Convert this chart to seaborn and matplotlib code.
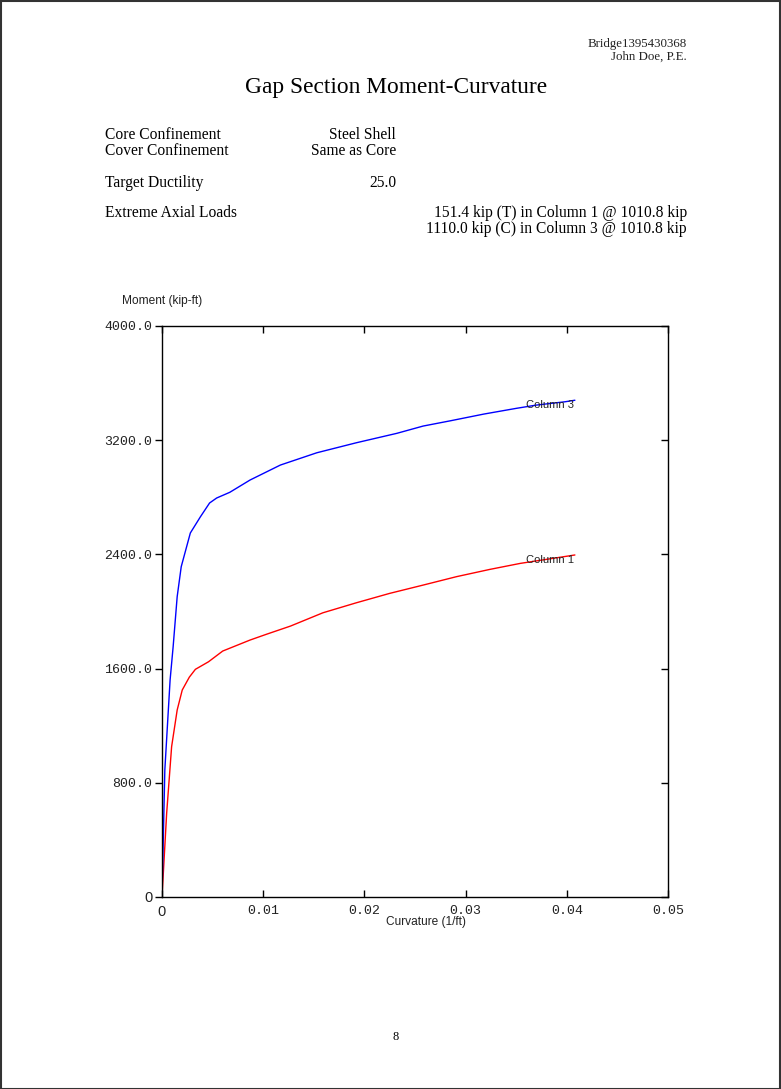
import matplotlib
matplotlib.use("Agg")
import matplotlib.pyplot as plt
from matplotlib.patches import Rectangle
from matplotlib.ticker import FixedLocator, FuncFormatter
import seaborn as sns
import pandas as pd

# ---- data ----
col3_curv = [0.0, 0.00028, 0.0008, 0.0011, 0.0015, 0.0019, 0.0028, 0.0038, 0.0047,
             0.0054, 0.0067, 0.0087, 0.0117, 0.0153, 0.0192, 0.0232, 0.0258, 0.0285,
             0.0318, 0.0350, 0.0370, 0.0398, 0.0408]
col3_moment = [0, 890, 1520, 1753, 2104, 2314, 2550, 2664, 2760,
               2795, 2835, 2921, 3026, 3112, 3182, 3248, 3299, 3336,
               3383, 3423, 3446, 3469, 3480]
col1_curv = [0.0, 0.00046, 0.00095, 0.0015, 0.0020, 0.0027, 0.0033, 0.0046, 0.0060,
             0.0087, 0.0103, 0.0127, 0.0159, 0.0192, 0.0225, 0.0258, 0.0291, 0.0324,
             0.0354, 0.0408]
col1_moment = [0, 586, 1053, 1310, 1450, 1540, 1595, 1648, 1723,
               1800, 1840, 1898, 1991, 2061, 2127, 2185, 2244, 2295,
               2337, 2396]
series_names = ["Column 1", "Column 3"]
series_colors = ["red", "blue"]
x_ticks = [0, 0.01, 0.02, 0.03, 0.04, 0.05]
y_ticks = [0, 800, 1600, 2400, 3200, 4000]

df = pd.concat([
    pd.DataFrame({"Curvature": col1_curv, "Moment": col1_moment, "Series": "Column 1"}),
    pd.DataFrame({"Curvature": col3_curv, "Moment": col3_moment, "Series": "Column 3"}),
], ignore_index=True)

sns.set_theme(style="white")
plt.rcParams["font.family"] = ["Liberation Sans", "DejaVu Sans"]

W, H = 781, 1089
fig = plt.figure(figsize=(W / 100, H / 100), dpi=100)
fig.patch.set_facecolor("white")

def fx(px):
    return px / W

def fy(py):
    return 1 - py / H

ax = fig.add_axes([fx(162), fy(897), fx(668) - fx(162), fy(326) - fy(897)])
sns.lineplot(data=df, x="Curvature", y="Moment", hue="Series",
             palette=dict(zip(series_names, series_colors)),
             sort=False, estimator=None, linewidth=1.0, legend=False, ax=ax)

ax.set_xlim(0, 0.05)
ax.set_ylim(0, 4000)
ax.set_xlabel("")
ax.set_ylabel("")
for sp in ax.spines.values():
    sp.set_visible(True)
    sp.set_color("black")
    sp.set_linewidth(1.0)

ax.xaxis.set_major_locator(FixedLocator(x_ticks))
ax.yaxis.set_major_locator(FixedLocator(y_ticks))
ax.xaxis.set_major_formatter(FuncFormatter(lambda v, p: "0" if v == 0 else f"{v:.2f}"))
ax.yaxis.set_major_formatter(FuncFormatter(lambda v, p: "0" if v == 0 else f"{v:.1f}"))
ax.tick_params(axis="x", which="major", direction="in", length=5, width=1,
               top=True, bottom=True, color="black", pad=6)
ax.tick_params(axis="y", which="major", direction="out", length=5, width=1,
               left=True, right=False, color="black", pad=2)
# inward ticks on the right side
ax2 = ax.secondary_yaxis("right")
ax2.yaxis.set_major_locator(FixedLocator(y_ticks))
ax2.tick_params(direction="in", length=5, width=1, color="black", labelright=False)
ax2.spines["right"].set_visible(False)

for lab in ax.get_xticklabels() + ax.get_yticklabels():
    lab.set_fontfamily(["Liberation Mono", "DejaVu Sans Mono"])
    lab.set_fontsize(9.5)
    lab.set_color("#222222")
for lab in (ax.get_xticklabels()[0], ax.get_yticklabels()[0]):
    lab.set_fontfamily(["Liberation Sans", "DejaVu Sans"])
    lab.set_fontsize(10.5)

# curve labels near curve ends
ax.text(0.0360, col3_moment[-1] - 35, series_names[1], fontsize=8,
        ha="left", va="center", color="#222222")
ax.text(0.0360, col1_moment[-1] - 35, series_names[0], fontsize=8,
        ha="left", va="center", color="#222222")

# axis titles
fig.text(fx(122), fy(301), "Moment (kip-ft)", fontsize=8.6, ha="left", va="center",
         color="#222222")
fig.text(fx(426), fy(922), "Curvature (1/ft)", fontsize=8.6, ha="center", va="center",
         color="#222222")

serif = ["Liberation Serif", "DejaVu Serif"]
fig.text(fx(687), fy(44), "Bridge1395430368", fontsize=9.3, ha="right", va="center",
         family=serif, color="#222222")
fig.text(fx(687), fy(57), "John Doe, P.E.", fontsize=9.3, ha="right", va="center",
         family=serif, color="#222222")
fig.text(fx(396), fy(88), "Gap Section Moment-Curvature", fontsize=16.8, ha="center",
         va="center", family=serif, color="black")

left_rows = [("Core Confinement", 135), ("Cover Confinement", 151),
             ("Target Ductility", 183), ("Extreme Axial Loads", 213)]
mid_rows = [("Steel Shell", 135), ("Same as Core", 151), ("25.0", 183)]
right_rows = [("151.4 kip (T) in Column 1 @ 1010.8 kip", 213),
              ("1110.0 kip (C) in Column 3 @ 1010.8 kip", 229)]
for t, y in left_rows:
    fig.text(fx(105), fy(y), t, fontsize=11.2, ha="left", va="center", family=serif,
             color="black")
for t, y in mid_rows:
    fig.text(fx(396), fy(y), t, fontsize=11.2, ha="right", va="center", family=serif,
             color="black")
for t, y in right_rows:
    fig.text(fx(687), fy(y), t, fontsize=11.2, ha="right", va="center", family=serif,
             color="black")

fig.text(fx(396), fy(1037), "8", fontsize=9, ha="center", va="center", family=serif,
         color="black")

# page border
fig.patches.append(Rectangle((0.5 / W, 0.5 / H), 1 - 1.5 / W, 1 - 1.5 / H,
                             transform=fig.transFigure, fill=False,
                             edgecolor="#333333", linewidth=1.5))

fig.savefig("out.png", dpi=100, facecolor="white")
